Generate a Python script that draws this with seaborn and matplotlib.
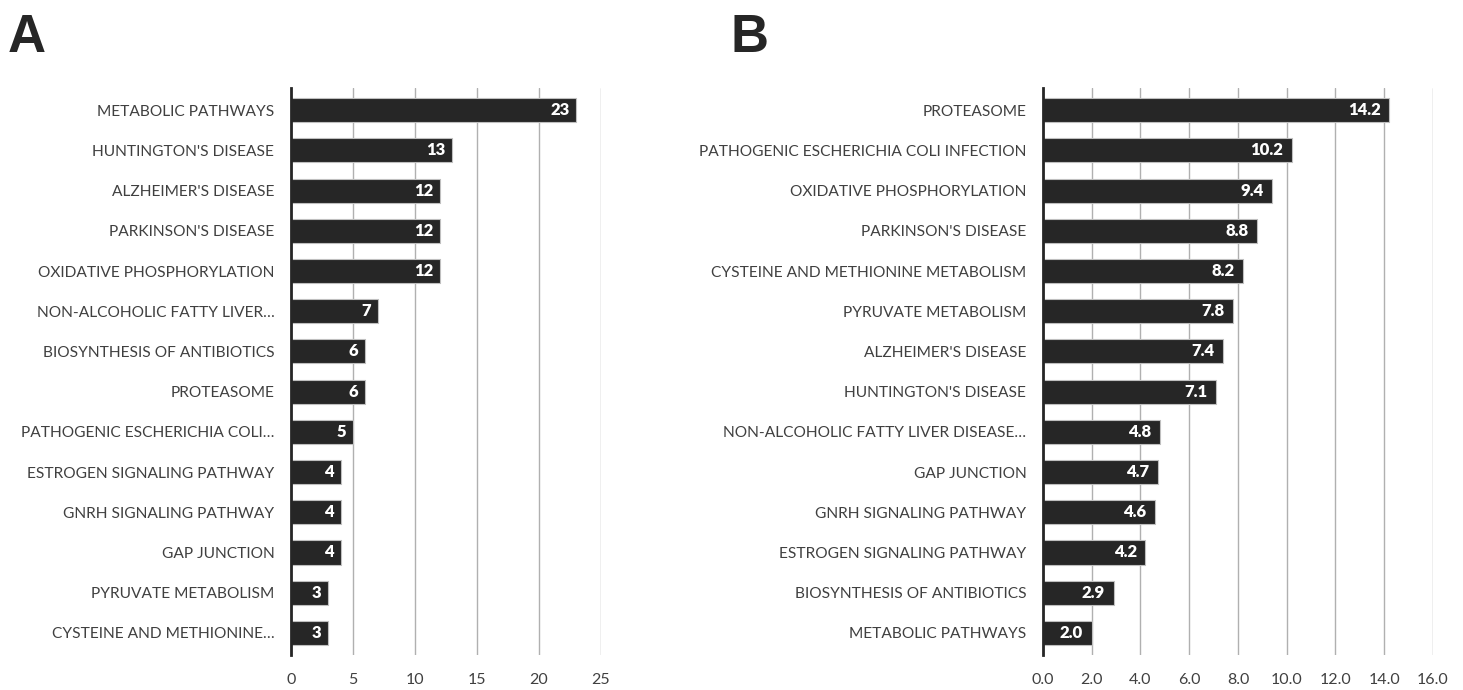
import numpy as np
import pandas as pd
import matplotlib
matplotlib.use("Agg")
import matplotlib.pyplot as plt
import seaborn as sns

# panel A: number of proteins per pathway
cats_a = ["METABOLIC PATHWAYS", "HUNTINGTON'S DISEASE", "ALZHEIMER'S DISEASE",
          "PARKINSON'S DISEASE", "OXIDATIVE PHOSPHORYLATION", "NON-ALCOHOLIC FATTY LIVER…",
          "BIOSYNTHESIS OF ANTIBIOTICS", "PROTEASOME", "PATHOGENIC ESCHERICHIA COLI…",
          "ESTROGEN SIGNALING PATHWAY", "GNRH SIGNALING PATHWAY", "GAP JUNCTION",
          "PYRUVATE METABOLISM", "CYSTEINE AND METHIONINE…"]
vals_a = [23, 13, 12, 12, 12, 7, 6, 6, 5, 4, 4, 4, 3, 3]
ticks_a = [0, 5, 10, 15, 20, 25]

# panel B: enrichment
cats_b = ["PROTEASOME", "PATHOGENIC ESCHERICHIA COLI INFECTION", "OXIDATIVE PHOSPHORYLATION",
          "PARKINSON'S DISEASE", "CYSTEINE AND METHIONINE METABOLISM", "PYRUVATE METABOLISM",
          "ALZHEIMER'S DISEASE", "HUNTINGTON'S DISEASE", "NON-ALCOHOLIC FATTY LIVER DISEASE…",
          "GAP JUNCTION", "GNRH SIGNALING PATHWAY", "ESTROGEN SIGNALING PATHWAY",
          "BIOSYNTHESIS OF ANTIBIOTICS", "METABOLIC PATHWAYS"]
vals_b = [14.2, 10.2, 9.4, 8.8, 8.2, 7.8, 7.4, 7.1, 4.8, 4.7, 4.6, 4.2, 2.9, 2.0]
ticks_b = [0, 2, 4, 6, 8, 10, 12, 14, 16]

sns.set_style("white")
plt.rcParams['font.family'] = ['Lato', 'DejaVu Sans']

fig = plt.figure(figsize=(14.63, 6.9), dpi=100)
ax_a = fig.add_axes([0.1989, 0.0507, 0.2119, 0.8217])
ax_b = fig.add_axes([0.7129, 0.0507, 0.2666, 0.8217])


def draw(ax, cats, vals, ticks, fmt):
    df = pd.DataFrame({"cat": cats, "val": vals})
    sns.barplot(data=df, y="cat", x="val", ax=ax, orient="h", color="#262626",
                saturation=1, width=0.6, edgecolor="#bfbfbf", linewidth=0.8, zorder=3)
    ax.set_xlim(ticks[0], ticks[-1])
    ax.set_ylim(len(cats) - 0.5 + 0.05, -0.5 - 0.05)
    ax.set_xticks(ticks)
    ax.set_xticklabels([fmt.format(t) for t in ticks], fontsize=11.5, color="#404040")
    ax.tick_params(axis="x", length=0, pad=13)
    ax.tick_params(axis="y", length=0, pad=12, labelsize=11.2, labelcolor="#404040")
    ax.set_xlabel("")
    ax.set_ylabel("")
    ax.grid(axis="x", color="#b0b0b0", linewidth=1, zorder=0)
    for s in ["top", "right", "bottom"]:
        ax.spines[s].set_visible(False)
    ax.spines["left"].set_color("#262626")
    ax.spines["left"].set_linewidth(2)
    ax.spines["left"].set_zorder(5)
    span = ticks[-1] - ticks[0]
    for i, v in enumerate(vals):
        ax.text(v - span * 0.022, i, fmt.format(v), ha="right", va="center",
                color="white", fontsize=12, fontweight="heavy", zorder=6)


draw(ax_a, cats_a, vals_a, ticks_a, "{:g}")
draw(ax_b, cats_b, vals_b, ticks_b, "{:.1f}")

fig.text(0.005, 0.925, "A", fontsize=38, fontweight="bold",
         family=["Liberation Sans", "DejaVu Sans"])
fig.text(0.499, 0.925, "B", fontsize=38, fontweight="bold",
         family=["Liberation Sans", "DejaVu Sans"])

fig.savefig("out.png", dpi=100)
